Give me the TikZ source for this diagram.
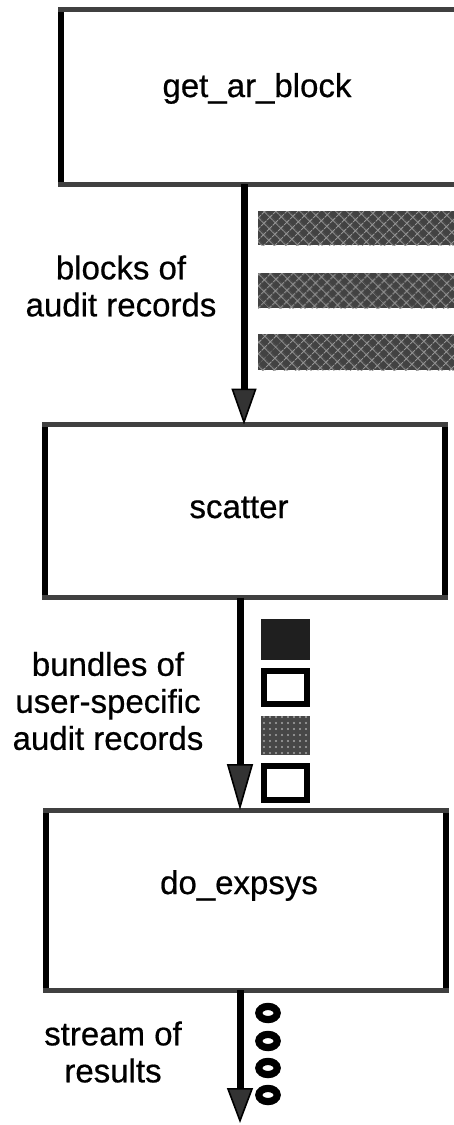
\documentclass[tikz,border=0pt]{standalone}
\usepackage{fontspec}
\setmainfont{Liberation Sans}[FakeBold=0.6]
\usetikzlibrary{arrows.meta,patterns.meta}

\begin{document}
\begin{tikzpicture}[x=0.5pt,y=-0.5pt,
  procbox/.style={inner sep=0pt, outer sep=0pt},
  vedge/.style={line width=3pt, black},
  hedge/.style={line width=2.5pt, black!75},
  proclabel/.style={font=\fontsize{16.5}{18.5}\selectfont, inner sep=0pt, anchor=base},
  flowlabel/.style={font=\fontsize{16.5}{18.5}\selectfont, align=center, inner sep=0pt},
  flow/.style={line width=3.5pt, black},
  blockbar/.style={fill=black!74},
  barhatch/.style={pattern={Hatch[angle=45,distance=4pt,line width=0.5pt]}, pattern color=black!42},
  openrec/.style={line width=3pt, black},
  ring/.style={line width=3.6pt, black}
]
\useasboundingbox (0,0) rectangle (454,1125);
\clip (0,0) rectangle (454,1125);

% process boxes
\node[procbox, minimum width=209.5pt, minimum height=87.5pt] (getar) at (270.5,96.5) {};
\node[procbox, minimum width=200pt, minimum height=86.5pt] (scatter) at (245,511) {};
\node[procbox, minimum width=200pt, minimum height=90pt] (expsys) at (246,900) {};

\foreach \b in {getar,scatter,expsys}{
  \draw[vedge] (\b.north west) -- (\b.south west);
  \draw[vedge] (\b.north east) -- (\b.south east);
  \draw[hedge] ([xshift=-1.5pt]\b.north west) -- ([xshift=1.5pt]\b.north east);
  \draw[hedge] ([xshift=-1.5pt]\b.south west) -- ([xshift=1.5pt]\b.south east);
}

\node[proclabel] (getarlabel) at (257,97) {get\_ar\_block};
\node[proclabel] (scatterlabel) at (239,518) {scatter};
\node[proclabel] (expsyslabel) at (239,894) {do\_expsys};

% flows between the stages
\coordinate (xa) at (244,0);
\coordinate (xb) at (240,0);
\coordinate (xc) at (240,0);
\coordinate (out) at (240,1123);

\draw[flow, -{Triangle[length=18pt,width=12.5pt,fill=black!80,line width=0.8pt]}]
  (getar.south -| xa) -- (scatter.north -| xa);
\draw[flow, -{Triangle[length=23pt,width=13pt,fill=black!80,line width=0.8pt]}]
  (scatter.south -| xb) -- (expsys.north -| xb);
\draw[flow, -{Triangle[length=17.5pt,width=13pt,fill=black!80,line width=0.8pt]}]
  (expsys.south -| xc) -- (out);

% flow labels
\node[flowlabel] (lblblocks) at (121,286) {blocks of\\audit records};
\node[flowlabel] (lblbundles) at (108,701) {bundles of\\user-specific\\audit records};
\node[flowlabel] (lblstream) at (113,1052) {stream of\\results};

% blocks of audit records
\foreach \t/\u in {211/245, 273/308, 334/370}{
  \fill[blockbar] (258,\t) rectangle (470,\u);
  \fill[barhatch] (258,\t) rectangle (470,\u);
}

% bundles of user-specific records
\fill[black!88] (261,619) rectangle (310,660);
\draw[openrec] (264,671) rectangle (307,704);
\fill[black!72] (261,716) rectangle (310,755);
\fill[pattern={Dots[distance=3pt,radius=0.6pt]}, pattern color=black!35] (261,716) rectangle (310,755);
\draw[openrec] (264,766) rectangle (307,800);

% stream of results
\foreach \y in {1013,1041,1068,1095}
  \draw[ring] (268,\y) ellipse [x radius=4.6pt, y radius=3.3pt];
\end{tikzpicture}
\end{document}
